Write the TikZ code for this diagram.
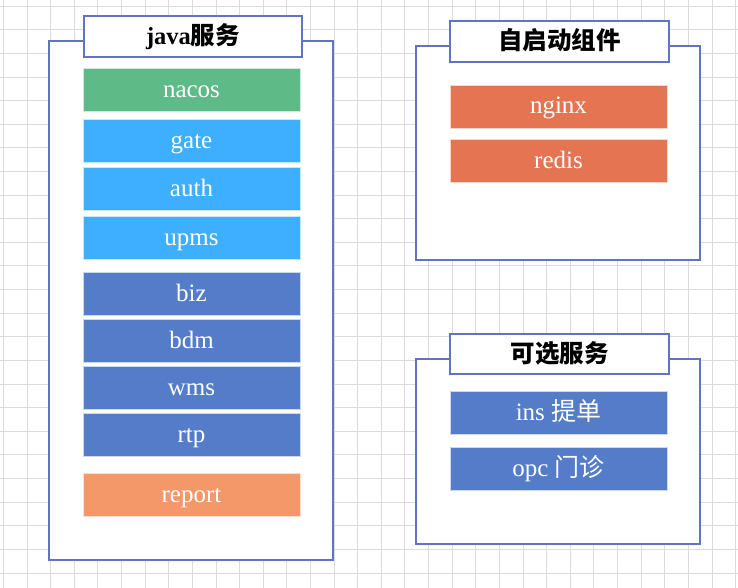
\documentclass[tikz,border=0pt]{standalone}
\usepackage{fontspec}
\setmainfont{Liberation Serif}
\newfontfamily\cjk{Noto Sans CJK SC}
\definecolor{gridc}{RGB}{220,220,224}
\definecolor{frame}{RGB}{98,114,196}
\definecolor{cgreen}{RGB}{94,186,134}
\definecolor{clight}{RGB}{62,174,255}
\definecolor{cdark}{RGB}{85,124,200}
\definecolor{creport}{RGB}{244,152,106}
\definecolor{cred}{RGB}{229,116,83}
\tikzset{
  container/.style={draw=frame, line width=1.6pt, fill=white, minimum width=284pt, inner sep=0pt},
  titlebox/.style={draw=frame, line width=1.6pt, fill=white, minimum width=218pt, minimum height=41pt, inner sep=0pt, text height=18pt, text depth=2pt, font=\fontsize{24.5}{28}\selectfont\bfseries},
  svc/.style={fill=#1, draw=white!70!#1, line width=0.6pt, minimum width=217pt, minimum height=43pt, inner sep=0pt, text height=18pt, text depth=3pt, text=white, font=\fontsize{25}{29}\selectfont},
}
\begin{document}
\begin{tikzpicture}[x=1pt,y=-1pt]
\useasboundingbox (0,0) rectangle (738,588);
\fill[white] (0,0) rectangle (738,588);
\foreach \i in {0,...,31}{
  \draw[gridc, line width=0.7pt] ({3.3+23.62*\i},0) -- ({3.3+23.62*\i},588);
}
\foreach \j in {0,...,24}{
  \draw[gridc, line width=0.7pt] (0,{6+23.62*\j}) -- (738,{6+23.62*\j});
}
% java container
\node[container, minimum height=519pt] (javac) at (191,300.5) {};
\node[titlebox] (javat) at (193,36.5) {java{\cjk\bfseries 服务}};
\node[svc=cgreen] (nacos) at (191.5,90) {nacos};
\node[svc=clight] (gate) at (191.5,141) {gate};
\node[svc=clight] (auth) at (191.5,188.5) {auth};
\node[svc=clight] (upms) at (191.5,237.5) {upms};
\node[svc=cdark] (biz) at (191.5,293.5) {biz};
\node[svc=cdark] (bdm) at (191.5,341) {bdm};
\node[svc=cdark] (wms) at (191.5,387.5) {wms};
\node[svc=cdark] (rtp) at (191.5,435) {rtp};
\node[svc=creport] (report) at (191.5,494.5) {report};
% self-start components
\node[container, minimum height=214pt] (autoc) at (558,153) {};
\node[titlebox, minimum width=219pt] (autot) at (559.5,41.5) {\cjk\bfseries 自启动组件};
\node[svc=cred] (nginx) at (558.5,106.5) {nginx};
\node[svc=cred] (redis) at (558.5,160.5) {redis};
% optional services
\node[container, minimum height=185pt] (optc) at (558,451.5) {};
\node[titlebox, minimum width=219pt, minimum height=40pt] (optt) at (559.5,354) {\cjk\bfseries 可选服务};
\node[svc=cdark] (ins) at (558.5,412.5) {ins {\cjk 提单}};
\node[svc=cdark] (opc) at (558.5,468.5) {opc {\cjk 门诊}};
\end{tikzpicture}
\end{document}
